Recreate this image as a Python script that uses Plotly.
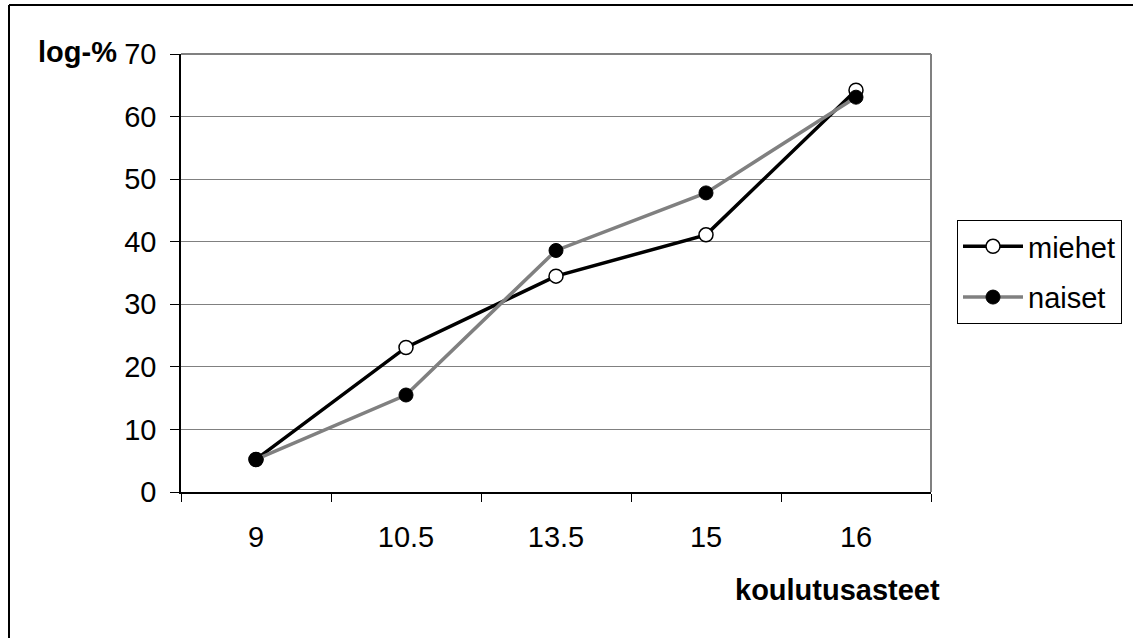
import plotly.graph_objects as go

categories = ["9", "10.5", "13.5", "15", "16"]
miehet = [5.2, 23.1, 34.5, 41.1, 64.2]
naiset = [5.2, 15.5, 38.6, 47.8, 63.1]
series_names = ["miehet", "naiset"]

W, H = 1133, 638
L, R, T, B = 181, 931, 54, 492
pw, ph = R - L, B - T

def px(x):
    return (x - L) / pw

def py(y):
    return (B - y) / ph

fig = go.Figure()
fig.add_trace(go.Scatter(
    x=categories, y=miehet, name=series_names[0], mode="lines+markers", legendgroup="m",
    line=dict(color="black", width=3.5),
    marker=dict(symbol="circle", size=14, color="white", line=dict(color="black", width=1.5)),
))
fig.add_trace(go.Scatter(
    x=categories, y=naiset, name=series_names[1], mode="lines+markers", legendgroup="n",
    line=dict(color="#808080", width=3.5),
    marker=dict(symbol="circle", size=14, color="black", line=dict(color="black", width=1)),
))

font = dict(family="Liberation Sans, Arial, sans-serif", size=29, color="black")

fig.update_layout(
    width=W, height=H,
    margin=dict(l=L, r=W - R, t=T, b=H - B, pad=0, autoexpand=False),
    paper_bgcolor="white", plot_bgcolor="white",
    font=font,
    showlegend=True,
    legend=dict(
        x=px(957), y=py(220), xanchor="left", yanchor="top",
        bordercolor="black", borderwidth=1, bgcolor="white",
        font=font, traceorder="grouped", tracegroupgap=10, itemwidth=60,
    ),
    xaxis=dict(
        type="category", range=[-0.5, 4.5],
        showgrid=False, zeroline=False,
        showline=True, linecolor="black", linewidth=1.5,
        ticks="outside", tickson="boundaries", ticklen=8, tickcolor="black", tickwidth=1,
        ticklabelstandoff=18,
        tickfont=font,
    ),
    yaxis=dict(
        range=[0, 70], tickmode="linear", tick0=0, dtick=10,
        showgrid=True, gridcolor="#808080", gridwidth=1,
        zeroline=False,
        showline=True, linecolor="black", linewidth=1.5,
        ticks="outside", ticklen=9, tickcolor="black", tickwidth=1,
        ticklabelstandoff=8,
        tickfont=font,
    ),
    shapes=[
        dict(type="line", xref="paper", yref="paper", x0=0, x1=1, y0=1, y1=1,
             line=dict(color="#808080", width=2), layer="below"),
        dict(type="line", xref="paper", yref="paper", x0=1, x1=1, y0=0, y1=1,
             line=dict(color="#808080", width=2), layer="below"),
        dict(type="line", xref="paper", yref="paper", x0=px(9), x1=px(9), y0=py(700), y1=py(5),
             line=dict(color="black", width=2)),
        dict(type="line", xref="paper", yref="paper", x0=px(9), x1=px(1200), y0=py(5), y1=py(5),
             line=dict(color="black", width=2)),
    ],
    annotations=[
        dict(text="<b>log-%</b>", xref="paper", yref="paper", x=px(119), y=py(52),
             xanchor="right", yanchor="middle", showarrow=False, font=font),
        dict(text="<b>koulutusasteet</b>", xref="paper", yref="paper", x=px(942), y=py(590),
             xanchor="right", yanchor="middle", showarrow=False, font=font),
    ],
)

fig.write_html("out.html", config={"displayModeBar": False},
               post_script="document.body.style.margin='0';")
